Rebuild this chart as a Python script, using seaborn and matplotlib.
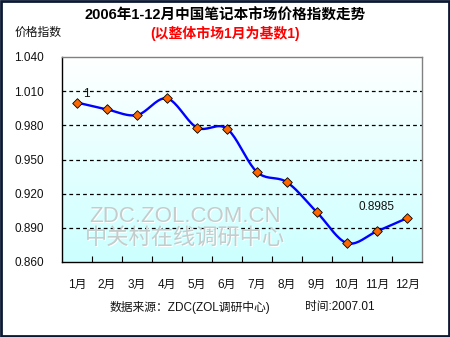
import numpy as np
import pandas as pd
import matplotlib
matplotlib.use("Agg")
import matplotlib.pyplot as plt
import seaborn as sns
from matplotlib.ticker import FixedLocator, FormatStrFormatter

months = ["1月", "2月", "3月", "4月", "5月", "6月", "7月", "8月", "9月", "10月", "11月", "12月"]
index_values = [1.0, 0.994, 0.989, 1.0036, 0.978, 0.977, 0.939, 0.930, 0.9036, 0.8766, 0.887, 0.8985]
y_ticks = [0.860, 0.890, 0.920, 0.950, 0.980, 1.010, 1.040]

title = "2006年1-12月中国笔记本市场价格指数走势"
subtitle = "(以整体市场1月为基数1)"
y_title = "价格指数"
source_text = "数据来源：ZDC(ZOL调研中心)"
date_text = "时间:2007.01"

sns.set_theme(style="white")
plt.rcParams["font.family"] = ["Liberation Sans", "Noto Sans CJK SC", "DejaVu Sans"]

df = pd.DataFrame({"pos": np.arange(len(months)), "value": index_values})


def smooth_curve(x, y, steps=20):
    """Catmull-Rom spline through the points, used for the smoothed line."""
    px = np.concatenate([[2 * x[0] - x[1]], x, [2 * x[-1] - x[-2]]])
    py = np.concatenate([[2 * y[0] - y[1]], y, [2 * y[-1] - y[-2]]])
    xs, ys = [], []
    t = np.linspace(0, 1, steps, endpoint=False)
    for i in range(1, len(px) - 2):
        p0, p1, p2, p3 = (np.array([px[j], py[j]]) for j in range(i - 1, i + 3))
        for tt in t:
            pt = 0.5 * ((2 * p1) + (-p0 + p2) * tt + (2 * p0 - 5 * p1 + 4 * p2 - p3) * tt ** 2
                        + (-p0 + 3 * p1 - 3 * p2 + p3) * tt ** 3)
            xs.append(pt[0])
            ys.append(pt[1])
    xs.append(x[-1])
    ys.append(y[-1])
    return np.array(xs), np.array(ys)


fig = plt.figure(figsize=(4.5, 3.37), dpi=100, facecolor="white")
ax = fig.add_axes([62 / 450, 1 - 262 / 337, 360 / 450, 205 / 337])

ymin, ymax = y_ticks[0], y_ticks[-1]
ax.set_xlim(-0.5, len(months) - 0.5)
ax.set_ylim(ymin, ymax)

# vertical white-to-cyan gradient inside the plot area
grad = np.linspace(1, 0, 256).reshape(-1, 1)
cmap = matplotlib.colors.LinearSegmentedColormap.from_list("bg", ["#ccffff", "#ffffff"])
ax.imshow(grad, aspect="auto", cmap=cmap, extent=(-0.5, len(months) - 0.5, ymin, ymax),
          origin="upper", zorder=0)

# dashed grid lines
for yv in y_ticks[1:-1]:
    ax.axhline(yv, color="black", lw=0.9, ls=(0, (3, 2.5)), zorder=1)

# embossed watermark
for dx, dy, col in [(0.6, -0.6, "#ffffff"), (0, 0, "#c4cccc")]:
    for txt, yy in [("ZDC.ZOL.COM.CN", 0.22), ("中关村在线调研中心", 0.115)]:
        t = ax.text(0.342, yy, txt, transform=ax.transAxes, fontsize=16, color=col,
                    ha="center", va="center", zorder=1)
        t.set_transform(ax.transAxes + matplotlib.transforms.ScaledTranslation(
            dx / 72, dy / 72, fig.dpi_scale_trans))

sx, sy = smooth_curve(df["pos"].to_numpy(float), df["value"].to_numpy(float))
sns.lineplot(x=sx, y=sy, ax=ax, color="#0000ff", lw=1.7, sort=False, zorder=3)
sns.scatterplot(data=df, x="pos", y="value", ax=ax, marker="D", s=24,
                color="#ff6600", edgecolor="black", linewidth=0.6, zorder=4)

# value labels at first and last point
ax.annotate(f"{index_values[0]:g}", (0, index_values[0]), xytext=(4, 4),
            textcoords="offset points", fontsize=8.5, color="#111111")
ax.annotate(f"{index_values[-1]:.4f}", (len(months) - 1, index_values[-1]), xytext=(-9, 6),
            textcoords="offset points", fontsize=8.5, color="#111111", ha="right")

ax.set_xlabel("")
ax.set_ylabel("")
ax.set_yticks(y_ticks)
ax.yaxis.set_major_formatter(FormatStrFormatter("%.3f"))
ax.set_xticks(range(len(months)))
ax.set_xticklabels(months)
ax.xaxis.set_minor_locator(FixedLocator(np.arange(0.5, len(months) - 1, 1.0)))
ax.tick_params(axis="x", which="major", length=0, pad=12, labelsize=8.5, colors="#111111")
ax.tick_params(axis="x", which="minor", direction="in", length=4, width=0.8, color="black",
               bottom=True)
ax.tick_params(axis="y", length=0, pad=13, labelsize=8.5, colors="#111111")

for side in ["left", "bottom"]:
    ax.spines[side].set_color("black")
    ax.spines[side].set_linewidth(1.0)
for side in ["top", "right"]:
    ax.spines[side].set_color("#808080")
    ax.spines[side].set_linewidth(1.0)
    ax.spines[side].set_visible(True)

fig.text(0.5, 1 - 16 / 337, title, ha="center", va="center", fontsize=10.5, fontweight="bold",
         color="black")
fig.text(0.5, 1 - 33 / 337, subtitle, ha="center", va="center", fontsize=10, fontweight="bold",
         color="#ff0000")
fig.text(15 / 450, 1 - 33 / 337, y_title, ha="left", va="center", fontsize=8.5, color="#111111")
fig.text(110 / 450, 1 - 307 / 337, source_text, ha="left", va="center", fontsize=8.5,
         color="#111111")
fig.text(305 / 450, 1 - 307 / 337, date_text, ha="left", va="center", fontsize=8.5,
         color="#111111")

# dark outer frame
fig.patches.append(matplotlib.patches.Rectangle((0.002, 0.003), 0.995, 0.994,
                                                transform=fig.transFigure, fill=False,
                                                edgecolor="#0b1a33", lw=2.0))

fig.savefig("out.png", dpi=100, facecolor="white")
